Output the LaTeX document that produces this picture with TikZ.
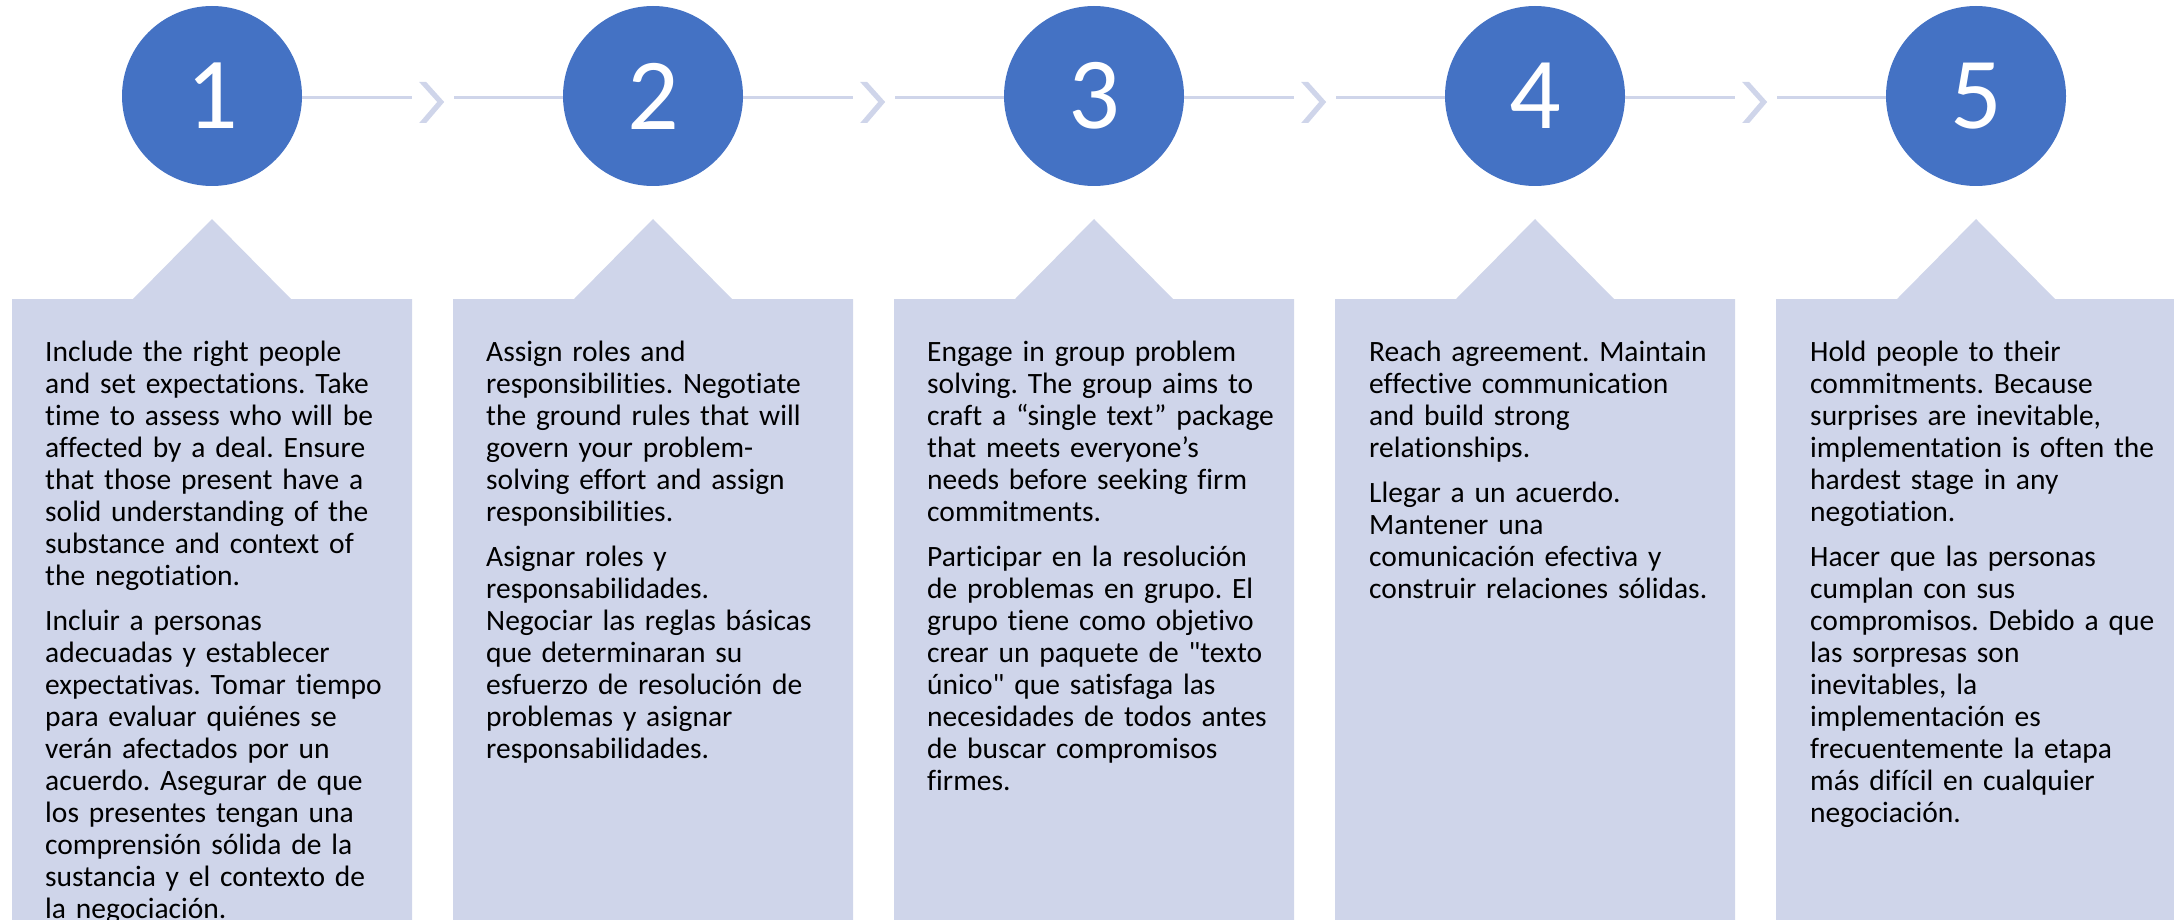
\documentclass[tikz,border=0pt]{standalone}
\usepackage{fontspec}
\setmainfont{Carlito}
\newfontfamily\stepfont{Carlito}[Ligatures=NoCommon]
\usetikzlibrary{calc}
\usepackage{xcolor}
\definecolor{stepblue}{HTML}{4472C4}
\definecolor{panelgray}{HTML}{CFD5EA}
\frenchspacing

\tikzset{
 stepcircle/.style={circle, fill=stepblue, minimum size=180, inner sep=0, text=white, font=\stepfont\fontsize{102}{102}\selectfont},
 link/.style={panelgray, line width=3},
 desc/.style={anchor=base west, text width=360, align=left, inner sep=0, font=\stepfont\fontsize{29.5}{32}\selectfont},
}

\begin{document}
\begin{tikzpicture}[x=1pt,y=-1pt]
\useasboundingbox (0,0) rectangle (2174,920);
\clip (0,0) rectangle (2174,920);

% panels with the pointer on top
\foreach \i in {0,...,4} {
 \coordinate (P\i) at (12+441*\i,299);
 \fill[panelgray] (P\i) -- ++(121,0) -- ++(79,-80) -- ++(79,80) -- ++(121,0) -- ++(0,640) -- ++(-400,0) -- cycle;
}

% numbered circles
\foreach \i in {1,...,5} {
 \node[stepcircle] (c\i) at (212+441*\i-441,96) {\i};
}

% connectors with chevrons
\foreach \i/\j in {1/2,2/3,3/4,4/5} {
 \path (c\i.east) ++(110,2) coordinate (l\i) ++(42,0) coordinate (r\i);
 \draw[link] (c\i.east |- l\i) -- (l\i);
 \draw[link] (r\i) -- (c\j.west |- r\i);
 \fill[panelgray] (l\i) ++(7,-16) -- ++(7,0) -- ++(18,20) -- ++(-18,21) -- ++(-7,0) -- ++(18,-21) -- cycle;
}

\node[desc] (t1) at (45,361) {Include the right people\\
and set expectations. Take\\
time to assess who will be\\
affected by a deal. Ensure\\
that those present have a\\
solid understanding of the\\
substance and context of\\
the negotiation.\\[13pt]
Incluir a personas\\
adecuadas y establecer\\
expectativas. Tomar tiempo\\
para evaluar quiénes se\\
verán afectados por un\\
acuerdo. Asegurar de que\\
los presentes tengan una\\
comprensión sólida de la\\
sustancia y el contexto de\\
la negociación.};

\node[desc] (t2) at (486,361) {Assign roles and\\
responsibilities. Negotiate\\
the ground rules that will\\
govern your problem-\\
solving effort and assign\\
responsibilities.\\[13pt]
Asignar roles y\\
responsabilidades.\\
Negociar las reglas básicas\\
que determinaran su\\
esfuerzo de resolución de\\
problemas y asignar\\
responsabilidades.};

\node[desc] (t3) at (927,361) {Engage in group problem\\
solving. The group aims to\\
craft a “single text” package\\
that meets everyone’s\\
needs before seeking firm\\
commitments.\\[13pt]
Participar en la resolución\\
de problemas en grupo. El\\
grupo tiene como objetivo\\
crear un paquete de "texto\\
único" que satisfaga las\\
necesidades de todos antes\\
de buscar compromisos\\
firmes.};

\node[desc] (t4) at (1369,361) {Reach agreement. Maintain\\
effective communication\\
and build strong\\
relationships.\\[13pt]
Llegar a un acuerdo.\\
Mantener una\\
comunicación efectiva y\\
construir relaciones sólidas.};

\node[desc] (t5) at (1810,361) {Hold people to their\\
commitments. Because\\
surprises are inevitable,\\
implementation is often the\\
hardest stage in any\\
negotiation.\\[13pt]
Hacer que las personas\\
cumplan con sus\\
compromisos. Debido a que\\
las sorpresas son\\
inevitables, la\\
implementación es\\
frecuentemente la etapa\\
más difícil en cualquier\\
negociación.};
\end{tikzpicture}
\end{document}
